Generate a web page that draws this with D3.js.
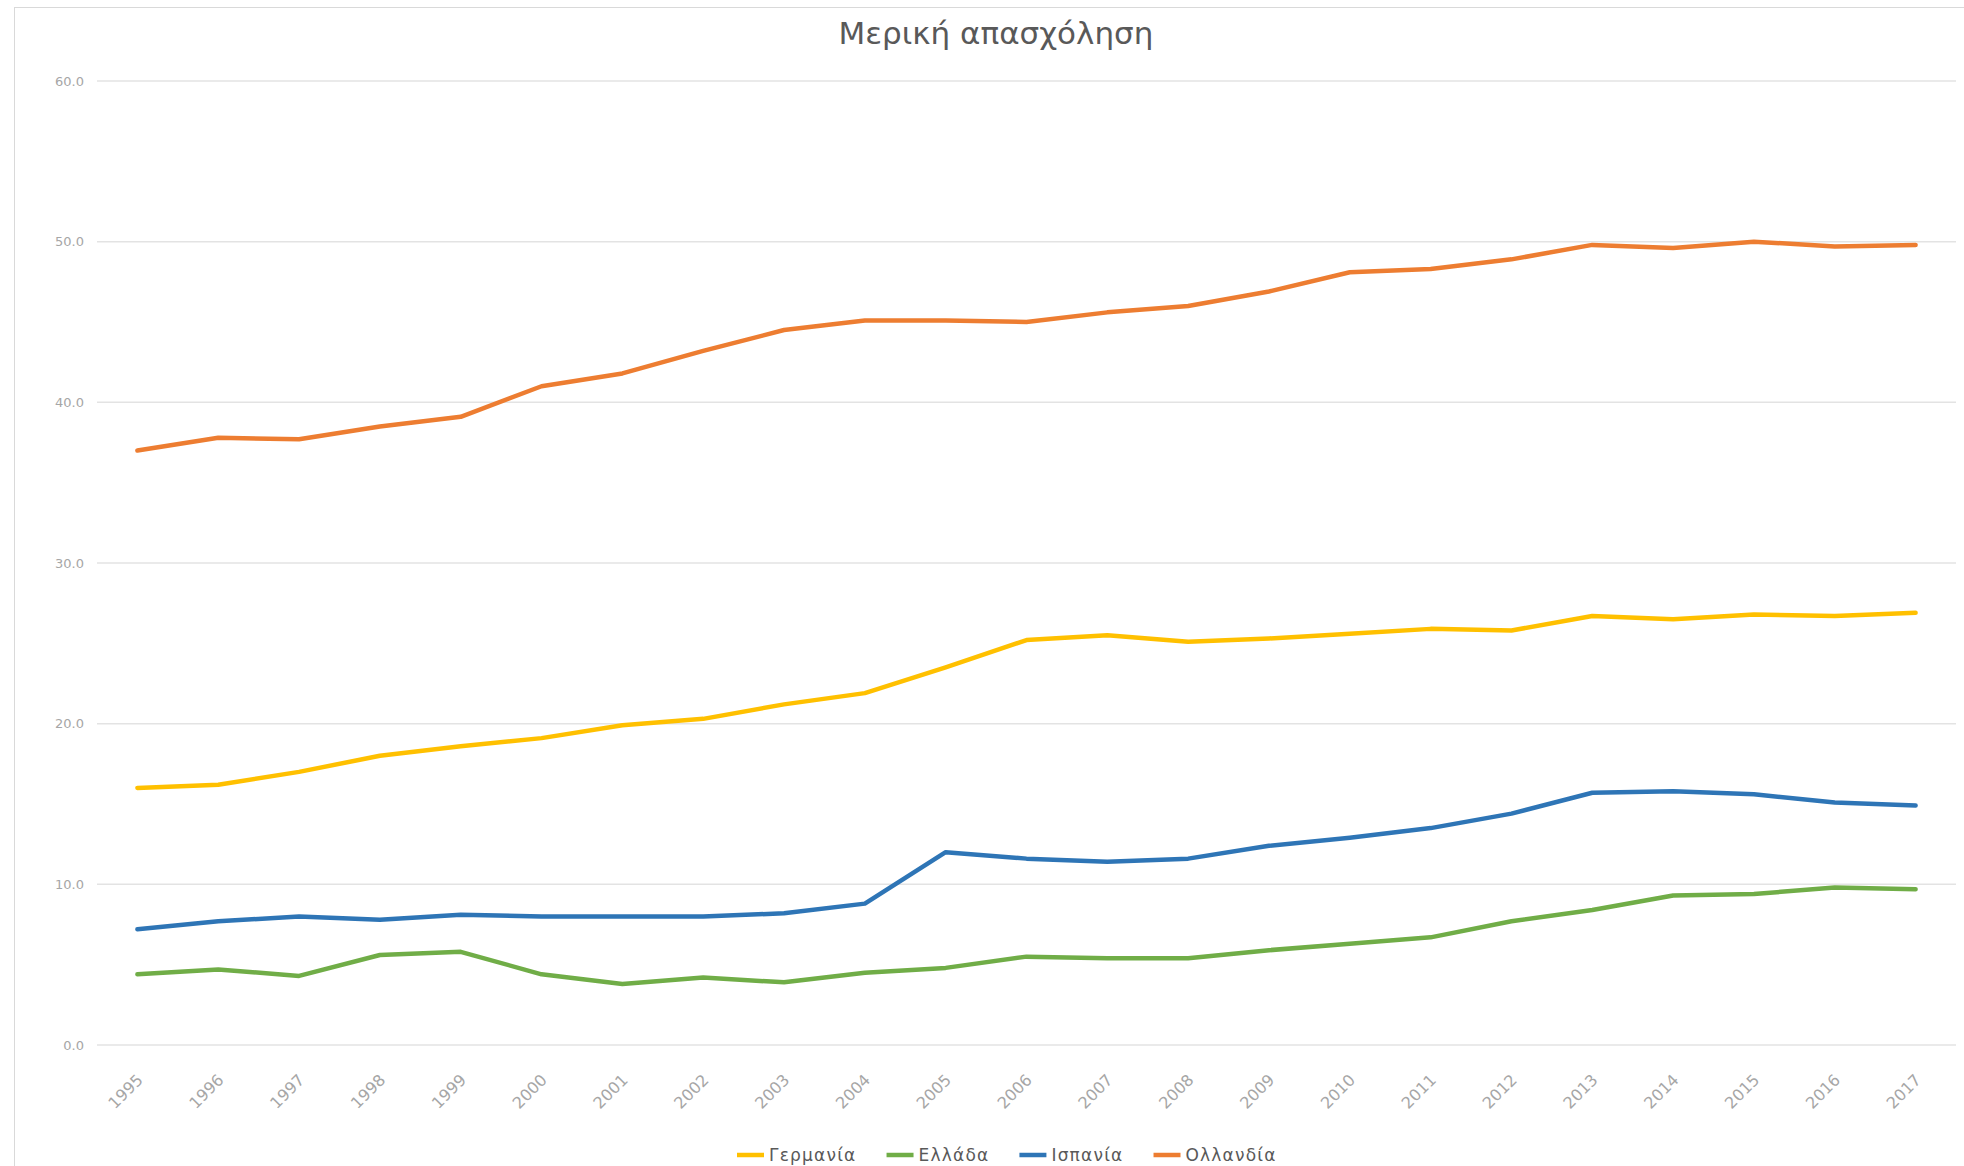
<!DOCTYPE html>
<html><head><meta charset="utf-8">
<script src="https://cdn.jsdelivr.net/npm/d3@7"></script>
<style>
html,body{margin:0;padding:0;background:#fff;overflow:hidden}
svg{display:block}
</style></head>
<body>
<script>
const title = "Μερική απασχόληση";
const years = ["1995","1996","1997","1998","1999","2000","2001","2002","2003","2004","2005","2006","2007","2008","2009","2010","2011","2012","2013","2014","2015","2016","2017"];
const seriesNames = ["Γερμανία","Ελλάδα","Ισπανία","Ολλανδία"];
const germany =     [16.0,16.2,17.0,18.0,18.6,19.1,19.9,20.3,21.2,21.9,23.5,25.2,25.5,25.1,25.3,25.6,25.9,25.8,26.7,26.5,26.8,26.7,26.9];
const greece =      [4.4,4.7,4.3,5.6,5.8,4.4,3.8,4.2,3.9,4.5,4.8,5.5,5.4,5.4,5.9,6.3,6.7,7.7,8.4,9.3,9.4,9.8,9.7];
const spain =       [7.2,7.7,8.0,7.8,8.1,8.0,8.0,8.0,8.2,8.8,12.0,11.6,11.4,11.6,12.4,12.9,13.5,14.4,15.7,15.8,15.6,15.1,14.9];
const netherlands = [37.0,37.8,37.7,38.5,39.1,41.0,41.8,43.2,44.5,45.1,45.1,45.0,45.6,46.0,46.9,48.1,48.3,48.9,49.8,49.6,50.0,49.7,49.8];
const yTicks = [0,10,20,30,40,50,60];
const colors = ["#FFC000","#70AD47","#2E75B6","#ED7D31"];

const W = 1964, H = 1166;
const plot = {left: 97, right: 1956, top: 81, bottom: 1045};

const svg = d3.select("body").append("svg").attr("width", W).attr("height", H);

// chart border
svg.append("rect").attr("x",14.5).attr("y",7.5).attr("width",W).attr("height",H)
  .attr("fill","none").attr("stroke","#d9d9d9").attr("stroke-width",1);

const x = d3.scalePoint().domain(years).range([plot.left, plot.right]).padding(0.5);
const y = d3.scaleLinear().domain([0,60]).range([plot.bottom, plot.top]);

// gridlines
svg.append("g").selectAll("line").data(yTicks).join("line")
  .attr("x1", plot.left).attr("x2", plot.right)
  .attr("y1", d => y(d)).attr("y2", d => y(d))
  .attr("stroke", "#e3e3e3").attr("stroke-width", 1.5);

// y axis labels
const yAxis = d3.axisLeft(y).tickValues(yTicks).tickFormat(d3.format(".1f")).tickSize(0).tickPadding(0);
const gy = svg.append("g").attr("transform", `translate(${plot.left-13},0)`).call(yAxis);
gy.select(".domain").remove();
gy.selectAll("text").attr("fill","#a6a6a6").style("font-family","'DejaVu Sans', sans-serif").style("font-size","13px");

// x axis labels
const xAxis = d3.axisBottom(x).tickSize(0).tickPadding(0);
const gx = svg.append("g").attr("transform", `translate(0,${plot.bottom})`).call(xAxis);
gx.select(".domain").remove();
gx.selectAll("text")
  .attr("fill","#a6a6a6").style("font-family","'DejaVu Sans', sans-serif").style("font-size","16px")
  .attr("text-anchor","end")
  .attr("y", 0).attr("dy", "0.35em")
  .attr("transform", "translate(2,32) rotate(-45)");

// lines
const allSeries = [germany, greece, spain, netherlands];
const line = d3.line().x((d,i) => x(years[i])).y(d => y(d));
svg.append("g").selectAll("path").data(allSeries).join("path")
  .attr("d", d => line(d))
  .attr("fill","none")
  .attr("stroke", (d,i) => colors[i])
  .attr("stroke-width", 4.5)
  .attr("stroke-linejoin","round").attr("stroke-linecap","round");

// title
svg.append("text").attr("x", 996).attr("y", 44).attr("text-anchor","middle")
  .attr("fill","#595959").style("font-family","'DejaVu Sans', sans-serif").style("font-size","31px")
  .text(title);

// legend
const lg = svg.append("g");
let lx = 737;
const ly = 1155;
seriesNames.forEach((name,i) => {
  lg.append("line").attr("x1", lx).attr("x2", lx+27).attr("y1", ly).attr("y2", ly)
    .attr("stroke", colors[i]).attr("stroke-width", 4.5);
  const t = lg.append("text").attr("x", lx+32).attr("y", ly).attr("dy","0.35em")
    .attr("fill","#595959").style("font-family","'DejaVu Sans', sans-serif").style("font-size","17px")
    .style("letter-spacing","1.2px")
    .text(name);
  const w = t.node().getComputedTextLength();
  lx += 32 + w + 30;
});
</script>
</body></html>
